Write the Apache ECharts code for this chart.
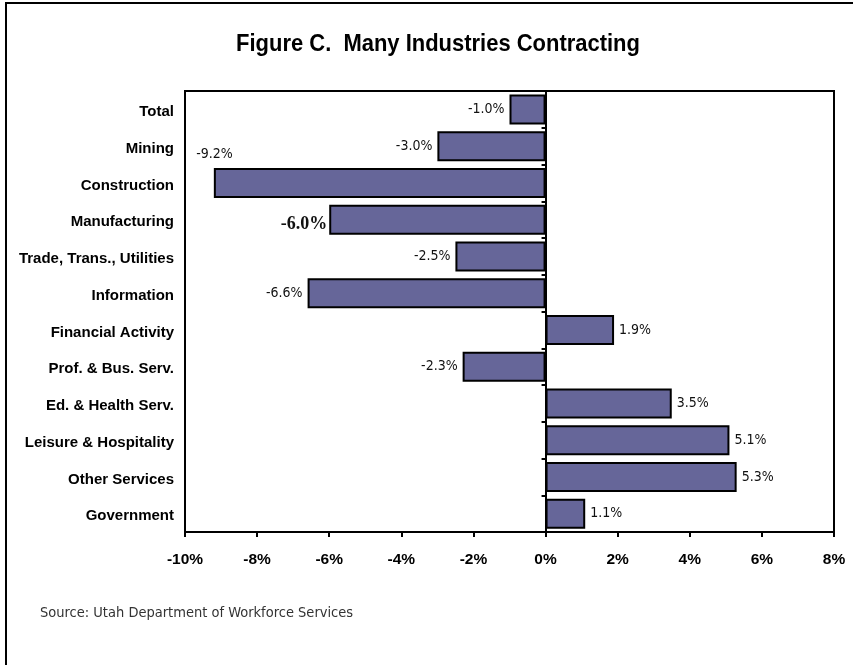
<!DOCTYPE html>
<html>
<head>
<meta charset="utf-8">
<script src="https://cdn.jsdelivr.net/npm/echarts@6/dist/echarts.min.js"></script>
<style>
  html, body { margin: 0; padding: 0; background: #fff; }
  #chart { width: 853px; height: 665px; }
</style>
</head>
<body>
<div id="chart"></div>
<script>
// Employment change by industry, percent
const industries = [
  'Total', 'Mining', 'Construction', 'Manufacturing', 'Trade, Trans., Utilities',
  'Information', 'Financial Activity', 'Prof. & Bus. Serv.', 'Ed. & Health Serv.',
  'Leisure & Hospitality', 'Other Services', 'Government'
];
const changePct = [-1.0, -3.0, -9.2, -6.0, -2.5, -6.6, 1.9, -2.3, 3.5, 5.1, 5.3, 1.1];
const xTicks = [-10, -8, -6, -4, -2, 0, 2, 4, 6, 8];

const narrow = '"DejaVu Sans Condensed", "Liberation Sans Narrow", sans-serif';

const labelBase = {
  show: true,
  fontFamily: narrow,
  fontSize: 14,
  color: '#111',
  distance: 5,
  formatter: p => p.value.toFixed(1) + '%'
};

const barData = changePct.map((v, i) => {
  const item = { value: v, label: { position: v < 0 ? 'left' : 'right' } };
  if (industries[i] === 'Construction') {
    item.label.offset = [24, -29];
  }
  if (industries[i] === 'Manufacturing') {
    item.label.fontFamily = '"Liberation Serif", "DejaVu Serif", serif';
    item.label.fontWeight = 'bold';
    item.label.fontSize = 18;
    item.label.offset = [0, 5];
    item.label.distance = 2;
  }
  return item;
});

const chart = echarts.init(document.getElementById('chart'), null, { renderer: 'canvas' });
chart.setOption({
  animation: false,
  backgroundColor: '#fff',
  graphic: [
    {
      type: 'rect',
      shape: { x: 6, y: 3, width: 1000, height: 800 },
      style: { fill: 'none', stroke: '#000', lineWidth: 2 },
      silent: true
    },
    {
      // narrow bold heading
      type: 'text',
      x: 438, y: 44,
      scaleX: 0.915,
      style: {
        text: 'Figure C.  Many Industries Contracting',
        fontFamily: '"Liberation Sans", Arial, sans-serif',
        fontWeight: 'bold',
        fontSize: 24,
        fill: '#000',
        align: 'center',
        verticalAlign: 'middle'
      }
    },
    {
      type: 'text',
      x: 40, y: 613,
      style: {
        text: 'Source: Utah Department of Workforce Services',
        fontFamily: narrow,
        fontSize: 14.5,
        fill: '#333',
        align: 'left',
        verticalAlign: 'middle'
      }
    }
  ],
  grid: {
    left: 185, right: 19, top: 91, bottom: 133,
    show: true, borderColor: '#000', borderWidth: 2, backgroundColor: 'transparent'
  },
  xAxis: {
    type: 'value',
    min: -10, max: 8, interval: 2,
    axisLine: { show: true, lineStyle: { color: '#000', width: 2 } },
    axisTick: { show: true, length: 5, lineStyle: { color: '#000', width: 2 } },
    splitLine: { show: false },
    axisLabel: {
      margin: 20,
      fontFamily: '"Liberation Sans", Arial, sans-serif',
      fontWeight: 'bold', fontSize: 15.5, color: '#000',
      formatter: v => xTicks.includes(v) ? v + '%' : ''
    }
  },
  yAxis: [
    {
      type: 'category',
      data: industries,
      inverse: true,
      position: 'left',
      axisLine: { show: false, onZero: false },
      axisTick: { show: false },
      axisLabel: {
        margin: 11,
        fontFamily: '"Liberation Sans", Arial, sans-serif',
        fontWeight: 'bold', fontSize: 15, color: '#000',
        formatter: v => '{c|' + v + '}',
        rich: {
          c: {
            fontFamily: '"Liberation Sans", Arial, sans-serif',
            fontWeight: 'bold', fontSize: 15, color: '#000',
            padding: [5, 0, 0, 0]
          }
        }
      }
    },
    {
      type: 'category',
      data: industries,
      inverse: true,
      position: 'left',
      axisLine: { show: true, onZero: true, lineStyle: { color: '#000', width: 2 } },
      axisTick: { show: true, length: 4, lineStyle: { color: '#000', width: 2 } },
      axisLabel: { show: false }
    }
  ],
  series: [{
    type: 'bar',
    yAxisIndex: 0,
    data: barData,
    barWidth: 30,
    itemStyle: { color: '#666699', borderColor: '#000', borderWidth: 2 },
    label: labelBase
  }]
});
</script>
</body>
</html>
